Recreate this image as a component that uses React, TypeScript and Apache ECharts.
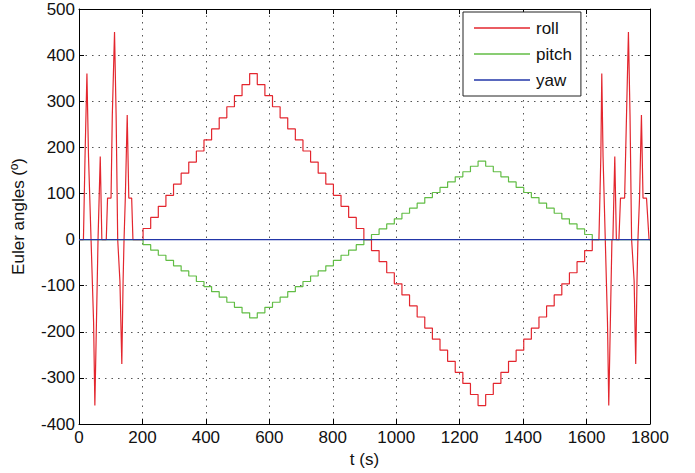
import React, { useEffect, useRef } from "react";
import * as echarts from "echarts";

// ---- Data ----
const xTicks = [0, 200, 400, 600, 800, 1000, 1200, 1400, 1600, 1800];
const yTicks = [-400, -300, -200, -100, 0, 100, 200, 300, 400, 500];

// Roll oscillation at the beginning (t, deg)
const pulseLeftT = [0, 14, 19, 25, 30, 38, 46, 50, 55, 60, 67, 72, 86, 90, 101, 105, 112, 117, 122, 129, 135, 139, 142, 146, 152, 157, 166, 170, 202];
const pulseLeftV = [0, 0, 180, 360, 180, 0, -180, -360, -180, 0, 180, 0, 0, 90, 90, 270, 450, 270, 0, -90, -270, -90, 0, 90, 270, 90, 90, 0, 0];

// Roll oscillation at the end (t, deg)
const pulseRightT = [1618, 1639, 1645, 1648, 1652, 1659, 1666, 1670, 1675, 1680, 1683, 1689, 1694, 1702, 1707, 1720, 1726, 1732, 1737, 1742, 1750, 1755, 1759, 1762, 1767, 1773, 1778, 1789, 1797, 1800];
const pulseRightV = [0, 0, 180, 360, 180, 0, -180, -360, -180, 0, 0, 180, 0, 0, 90, 90, 270, 450, 270, 0, -90, -270, -90, 0, 90, 270, 90, 90, 0, 0];

// First staircase (roll up/down, pitch down/up)
const stepTimesA = [202, 226, 250, 274, 298, 322, 346, 370, 394, 418, 442, 466, 490, 514, 538, 562, 586, 610, 634, 658, 682, 706, 730, 754, 778, 802, 826, 850, 874, 898];
const rollLevelsA = [24, 48, 72, 96, 120, 144, 168, 192, 216, 240, 264, 288, 312, 336, 360, 336, 312, 288, 264, 240, 216, 192, 168, 144, 120, 96, 72, 48, 24];
const pitchLevelsA = [-11, -23, -34, -45, -57, -68, -79, -91, -102, -113, -125, -136, -147, -159, -170, -159, -147, -136, -125, -113, -102, -91, -79, -68, -57, -45, -34, -23, -11];

// Second staircase (roll down/up, pitch up/down)
const stepTimesB = [922, 946, 970, 994, 1018, 1042, 1066, 1090, 1114, 1138, 1162, 1186, 1210, 1234, 1258, 1282, 1306, 1330, 1354, 1378, 1402, 1426, 1450, 1474, 1498, 1522, 1546, 1570, 1594, 1618];
const rollLevelsB = [-24, -48, -72, -96, -120, -144, -168, -192, -216, -240, -264, -288, -312, -336, -360, -336, -312, -288, -264, -240, -216, -192, -168, -144, -120, -96, -72, -48, -24];
const pitchLevelsB = [11, 23, 34, 45, 57, 68, 79, 91, 102, 113, 125, 136, 147, 159, 170, 159, 147, 136, 125, 113, 102, 91, 79, 68, 57, 45, 34, 23, 11];

const yawT = [0, 1800];
const yawV = [0, 0];

const seriesNames = ["roll", "pitch", "yaw"];
const colors = ["#e3262e", "#62bd45", "#2236a8"];

function zipPts(t: number[], v: number[]): number[][] {
  return t.map((x, i) => [x, v[i]]);
}

function stairs(times: number[], levels: number[]): number[][] {
  const pts: number[][] = [[times[0], 0]];
  for (let i = 0; i < levels.length; i++) {
    pts.push([times[i], levels[i]]);
    pts.push([times[i + 1], levels[i]]);
  }
  pts.push([times[times.length - 1], 0]);
  return pts;
}

const FONT = "'Liberation Sans', Arial, sans-serif";

export default function App() {
  const ref = useRef<HTMLDivElement>(null);
  useEffect(() => {
    if (!ref.current) return;
    const chart = echarts.init(ref.current, null, { renderer: "svg" });

    const rollData = [
      ...zipPts(pulseLeftT, pulseLeftV),
      ...stairs(stepTimesA, rollLevelsA),
      ...stairs(stepTimesB, rollLevelsB),
      ...zipPts(pulseRightT, pulseRightV),
    ];
    const pitchData = [
      [0, 0],
      ...stairs(stepTimesA, pitchLevelsA),
      ...stairs(stepTimesB, pitchLevelsB),
      [1800, 0],
    ];
    const yawData = zipPts(yawT, yawV);

    const axisLine = { show: true, onZero: false, lineStyle: { color: "#000", width: 1 } };
    const tick = { show: true, inside: true, length: 5, lineStyle: { color: "#000" } };
    const split = { show: true, lineStyle: { color: "#555", width: 1, type: [1.5, 5] as any } };
    const label = { color: "#111", fontSize: 17, fontFamily: FONT, formatter: (v: number) => String(v) };

    chart.setOption({
      animation: false,
      backgroundColor: "#fff",
      grid: { left: 79, right: 45, top: 9, bottom: 49, containLabel: false },
      legend: {
        data: seriesNames,
        orient: "vertical",
        left: 463,
        top: 12,
        icon: "rect",
        itemWidth: 56,
        itemHeight: 1.5,
        itemGap: 6,
        padding: [6, 9, 6, 11],
        borderColor: "#222",
        borderWidth: 1,
        backgroundColor: "#fff",
        textStyle: { color: "#111", fontSize: 17, fontFamily: FONT, lineHeight: 20, padding: [0, 0, 0, 1] },
      },
      xAxis: [
        {
          type: "value",
          position: "bottom",
          min: xTicks[0],
          max: xTicks[xTicks.length - 1],
          interval: 200,
          axisLine,
          axisTick: tick,
          splitLine: split,
          axisLabel: { ...label, margin: 5 },
          name: "t (s)",
          nameLocation: "middle",
          nameGap: 26,
          nameTextStyle: { color: "#111", fontSize: 17, fontFamily: FONT },
        },
        {
          type: "value",
          position: "top",
          min: xTicks[0],
          max: xTicks[xTicks.length - 1],
          interval: 200,
          axisLine,
          axisTick: tick,
          splitLine: { show: false },
          axisLabel: { show: false },
        },
      ],
      yAxis: [
        {
          type: "value",
          position: "left",
          min: yTicks[0],
          max: yTicks[yTicks.length - 1],
          interval: 100,
          axisLine,
          axisTick: tick,
          splitLine: split,
          axisLabel: { ...label, margin: 4 },
          name: "Euler angles (º)",
          nameLocation: "middle",
          nameGap: 52,
          nameTextStyle: { color: "#111", fontSize: 17, fontFamily: FONT },
        },
        {
          type: "value",
          position: "right",
          min: yTicks[0],
          max: yTicks[yTicks.length - 1],
          interval: 100,
          axisLine,
          axisTick: tick,
          splitLine: { show: false },
          axisLabel: { show: false },
        },
      ],
      series: [
        {
          name: seriesNames[0],
          type: "line",
          data: rollData,
          symbol: "none",
          lineStyle: { color: colors[0], width: 1.2 },
          itemStyle: { color: colors[0] },
          z: 2,
        },
        {
          name: seriesNames[1],
          type: "line",
          data: pitchData,
          symbol: "none",
          lineStyle: { color: colors[1], width: 1.2 },
          itemStyle: { color: colors[1] },
          z: 3,
        },
        {
          name: seriesNames[2],
          type: "line",
          data: yawData,
          symbol: "none",
          lineStyle: { color: colors[2], width: 1.2 },
          itemStyle: { color: colors[2] },
          z: 4,
        },
      ],
    });
    return () => chart.dispose();
  }, []);
  return (
    <div
      ref={ref}
      style={{ position: "fixed", left: 0, top: 0, width: 695, height: 473 }}
    />
  );
}
